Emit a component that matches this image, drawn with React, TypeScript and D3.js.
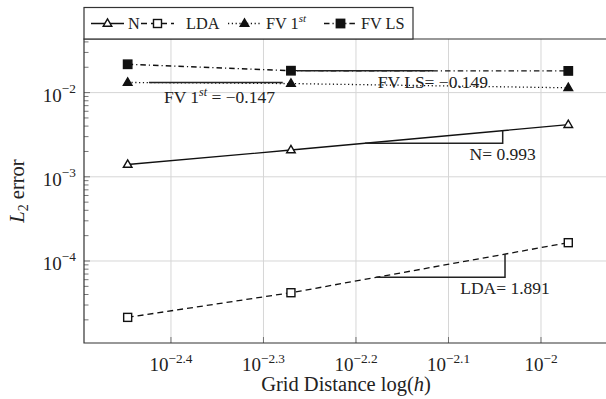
import React from 'react';
import * as d3 from 'd3';

// log10 of grid distance h for the three meshes
const gridLogH = [-2.4468, -2.2703, -1.9705];
const nErr = [1.4e-3, 2.08e-3, 4.16e-3];
const ldaErr = [2.14e-5, 4.2e-5, 1.65e-4];
const fv1Err = [1.32e-2, 1.28e-2, 1.14e-2];
const fvlsErr = [2.17e-2, 1.82e-2, 1.81e-2];

const xTickExps = [-2.4, -2.3, -2.2, -2.1, -2];
const xTickLabels = ['−2.4', '−2.3', '−2.2', '−2.1', '−2'];
const yTickExps = [-4, -3, -2];
const yTickLabels = ['−4', '−3', '−2'];

// slope triangles: series key, start / end (log10 h), label parts
const slopeSeries = ['fvls', 'fv1', 'n', 'lda'];
const slopeStart = [-2.2638, -2.4238, -2.1903, -2.178];
const slopeEnd = [-2.1168, -2.28, -2.0414, -2.0389];
const slopeLabelMain = ['FV LS= −0.149', 'FV 1', 'N= 0.993', 'LDA= 1.891'];

const W = 606;
const H = 399;
const FONT = '"Liberation Serif", "Times New Roman", serif';

const x = d3
  .scaleLog()
  .domain([Math.pow(10, -2.494), Math.pow(10, -1.9146)])
  .range([84, 620]);
const y = d3
  .scaleLog()
  .domain([Math.pow(10, -4.9739), Math.pow(10, -1.3634)])
  .range([343, 39]);

const gridH = gridLogH.map((v) => Math.pow(10, v));

type Series = { key: string; values: number[]; dash: string; marker: string };
const series: Series[] = [
  { key: 'n', values: nErr, dash: '', marker: 'triOpen' },
  { key: 'lda', values: ldaErr, dash: '6,4', marker: 'sqOpen' },
  { key: 'fv1', values: fv1Err, dash: '1.2,2.6', marker: 'triFill' },
  { key: 'fvls', values: fvlsErr, dash: '5.5,3,1.2,3', marker: 'sqFill' },
];

function interpLog(values: number[], lx: number): number {
  let i = 0;
  while (i < gridLogH.length - 2 && lx > gridLogH[i + 1]) i++;
  const t = (lx - gridLogH[i]) / (gridLogH[i + 1] - gridLogH[i]);
  const ly = Math.log10(values[i]) + t * (Math.log10(values[i + 1]) - Math.log10(values[i]));
  return Math.pow(10, ly);
}

function Marker({ type, cx, cy }: { type: string; cx: number; cy: number }) {
  if (type === 'triOpen' || type === 'triFill') {
    const d = `M${cx},${cy - 4.6}L${cx + 4.3},${cy + 2.8}L${cx - 4.3},${cy + 2.8}Z`;
    return (
      <path
        d={d}
        fill={type === 'triFill' ? '#111' : '#fff'}
        stroke="#111"
        strokeWidth={1.4}
        strokeLinejoin="miter"
      />
    );
  }
  const s = type === 'sqFill' ? 8.4 : 8;
  return (
    <rect
      x={cx - s / 2}
      y={cy - s / 2}
      width={s}
      height={s}
      fill={type === 'sqFill' ? '#111' : '#fff'}
      stroke="#111"
      strokeWidth={1.4}
    />
  );
}

export default function App() {
  const line = d3
    .line<number>()
    .x((_, i) => x(gridH[i]))
    .y((v) => y(v));

  const yMinor: number[] = [];
  for (let e = -5; e <= -2; e++) {
    for (let k = 2; k <= 9; k++) {
      const v = k * Math.pow(10, e);
      if (y(v) > 39 && y(v) < 343) yMinor.push(v);
    }
  }

  const legendItems = [
    { sx: 91, tx: 128, s: series[0], label: 'N' },
    { sx: 141, tx: 186, s: series[1], label: 'LDA' },
    { sx: 228, tx: 266, s: series[2], label: 'FV 1' },
    { sx: 324, tx: 361, s: series[3], label: 'FV LS' },
  ];

  return (
    <svg
      width={W}
      height={H}
      style={{ position: 'absolute', left: 0, top: 0, background: '#fff' }}
      fontFamily={FONT}
    >
      <rect x={0} y={0} width={W} height={H} fill="#fff" />
      {/* grid */}
      <g stroke="#d6d6d6" strokeWidth={1}>
        {xTickExps.map((e) => (
          <line key={'gx' + e} x1={x(Math.pow(10, e))} x2={x(Math.pow(10, e))} y1={39} y2={343} />
        ))}
        {yTickExps.map((e) => (
          <line key={'gy' + e} x1={84} x2={620} y1={y(Math.pow(10, e))} y2={y(Math.pow(10, e))} />
        ))}
      </g>
      {/* ticks */}
      <g stroke="#666" strokeWidth={0.9}>
        {yMinor.map((v, i) => (
          <line key={'ym' + i} x1={84} x2={88.5} y1={y(v)} y2={y(v)} />
        ))}
        {yTickExps.map((e) => (
          <line key={'yt' + e} x1={84} x2={90} y1={y(Math.pow(10, e))} y2={y(Math.pow(10, e))} />
        ))}
        {xTickExps.map((e) => (
          <line key={'xt' + e} x1={x(Math.pow(10, e))} x2={x(Math.pow(10, e))} y1={343} y2={337} />
        ))}
      </g>
      {/* series */}
      {series.map((s) => (
        <path
          key={s.key}
          d={line(s.values) || ''}
          fill="none"
          stroke="#111"
          strokeWidth={1.3}
          strokeDasharray={s.dash || undefined}
        />
      ))}
      {/* slope triangles */}
      {slopeSeries.map((k, i) => {
        const s = series.find((q) => q.key === k)!;
        const xa = x(Math.pow(10, slopeStart[i]));
        const xb = x(Math.pow(10, slopeEnd[i]));
        const ya = y(interpLog(s.values, slopeStart[i]));
        const yb = y(interpLog(s.values, slopeEnd[i]));
        const d = `M${xa},${ya}H${xb}V${yb}`;
        const isFv1 = k === 'fv1';
        const lx = isFv1 ? (xa + xb) / 2 + 4 : xb;
        const ly = ya + (isFv1 ? 20.5 : 17);
        return (
          <g key={'sl' + k}>
            <path d={d} fill="none" stroke="#222" strokeWidth={1.5} />
            <text x={lx} y={ly} textAnchor="middle" fontSize={17.5} fill="#222">
              {slopeLabelMain[i]}
              {isFv1 && (
                <>
                  <tspan dy={-7} fontSize={12} fontStyle="italic">
                    st
                  </tspan>
                  <tspan dy={7}>{' = −0.147'}</tspan>
                </>
              )}
            </text>
          </g>
        );
      })}
      {/* markers */}
      {series.map((s) =>
        s.values.map((v, i) => (
          <Marker key={s.key + i} type={s.marker} cx={x(gridH[i])} cy={y(v)} />
        ))
      )}
      {/* frame */}
      <path d="M620,39H84V343H620" fill="none" stroke="#333" strokeWidth={1.2} />
      {/* tick labels */}
      {xTickExps.map((e, i) => (
        <text
          key={'xl' + e}
          x={x(Math.pow(10, e))}
          y={371}
          textAnchor="middle"
          fontSize={19}
          fill="#222"
        >
          10
          <tspan dy={-8.5} fontSize={13.3}>
            {xTickLabels[i]}
          </tspan>
        </text>
      ))}
      {yTickExps.map((e, i) => (
        <text
          key={'yl' + e}
          x={76}
          y={y(Math.pow(10, e)) + 9}
          textAnchor="end"
          fontSize={19}
          fill="#222"
        >
          10
          <tspan dy={-8.5} fontSize={13.3}>
            {yTickLabels[i]}
          </tspan>
        </text>
      ))}
      {/* axis titles */}
      <text x={346} y={391} textAnchor="middle" fontSize={20.5} fill="#222">
        Grid Distance log(<tspan fontStyle="italic">h</tspan>)
      </text>
      <text
        transform="translate(24,191) rotate(-90)"
        textAnchor="middle"
        fontSize={20.5}
        fill="#222"
      >
        <tspan fontStyle="italic">L</tspan>
        <tspan dy={4} fontSize={14}>
          2
        </tspan>
        <tspan dy={-4}>{' error'}</tspan>
      </text>
      {/* legend */}
      <rect x={84} y={7.5} width={329} height={31.5} fill="#fff" stroke="#333" strokeWidth={1.2} />
      {legendItems.map((it) => (
        <g key={'lg' + it.label}>
          <line
            x1={it.sx}
            x2={it.sx + 33}
            y1={23.5}
            y2={23.5}
            stroke="#111"
            strokeWidth={1.3}
            strokeDasharray={it.s.dash || undefined}
          />
          <Marker type={it.s.marker} cx={it.sx + 16.5} cy={23.5} />
          <text x={it.tx} y={29} fontSize={16.3} fill="#222">
            {it.label}
            {it.label === 'FV 1' && (
              <tspan dy={-7} fontSize={11} fontStyle="italic">
                st
              </tspan>
            )}
          </text>
        </g>
      ))}
    </svg>
  );
}
